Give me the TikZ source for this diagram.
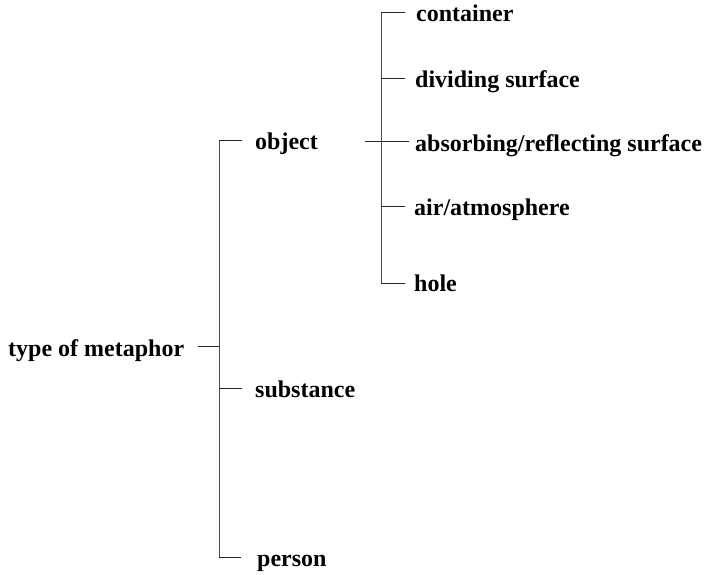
\documentclass[tikz,border=0pt]{standalone}
\usepackage{fontspec}
\setmainfont{Liberation Serif}
\begin{document}
\begin{tikzpicture}[x=1pt,y=-1pt,
  lbl/.style={anchor=base west, inner sep=0pt, font=\fontsize{24}{29}\selectfont\bfseries},
  ln/.style={line width=0.9pt, black!85},
  vln/.style={line width=0.7pt, black!70}]
\useasboundingbox (0,0) rectangle (708,574);
% labels
\node[lbl] (root) at (8,356) {type of metaphor};
\node[lbl] (object) at (255,149) {object};
\node[lbl] (substance) at (255,397) {substance};
\node[lbl] (person) at (257,566) {person};
\node[lbl] (container) at (416,21) {container};
\node[lbl] (dividing) at (415,87) {dividing surface};
\node[lbl] (absorbing) at (415,151) {absorbing/reflecting surface};
\node[lbl] (air) at (414,215) {air/atmosphere};
\node[lbl] (hole) at (414,291) {hole};
% first level tree
\coordinate (jroot) at (219,346);
\coordinate (jobj) at (219,140);
\coordinate (jsub) at (219,388);
\coordinate (jper) at (219,557);
\coordinate (rootend) at (198,346);
\draw[vln] (jobj) -- (jper);
\draw[ln] (rootend) -- (jroot);
\draw[ln] (jobj) -- ++(23,0);
\draw[ln] (jsub) -- ++(23,0);
\draw[ln] (jper) -- ++(22,0);
% second level tree
\coordinate (objend) at (365,141);
\coordinate (kcon) at (381,12);
\coordinate (kdiv) at (381,78);
\coordinate (kabs) at (381,141);
\coordinate (kair) at (381,206);
\coordinate (khol) at (381,283);
\draw[vln] (kcon) -- (khol);
\draw[ln] (objend) -- (409,141);
\draw[ln] (kcon) -- ++(24,0);
\draw[ln] (kdiv) -- ++(24,0);
\draw[ln] (kair) -- ++(24,0);
\draw[ln] (khol) -- ++(24,0);
\end{tikzpicture}
\end{document}
